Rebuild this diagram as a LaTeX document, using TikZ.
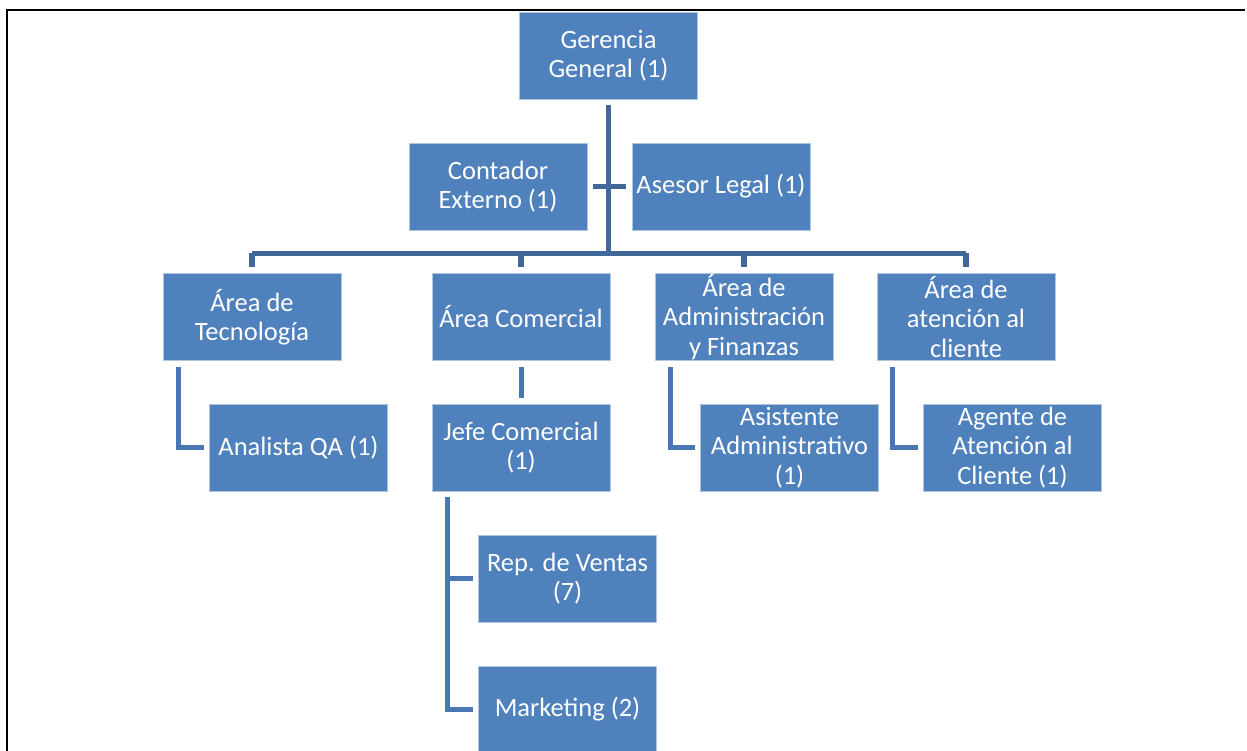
\documentclass[tikz,border=0pt]{standalone}
\usepackage{fontspec}
\setmainfont{Carlito}
\usetikzlibrary{calc}
\definecolor{boxblue}{HTML}{4F81BD}
\definecolor{trunkblue}{HTML}{41689A}
\definecolor{connblue}{HTML}{4A76B1}
\tikzset{
  orgbox/.style={rectangle, fill=boxblue, draw=white!55!boxblue, line width=0.8pt,
    minimum width=178pt, minimum height=87pt, inner sep=0pt, align=center,
    text=white, font=\fontsize{26.5}{29.5}\selectfont},
  trunk/.style={draw=trunkblue, line width=5.5pt},
  conn/.style={draw=connblue, line width=5pt},
  frame/.style={draw=black, line width=2pt}
}
\begin{document}
\begin{tikzpicture}[x=1pt,y=-1pt]
\useasboundingbox (0,0) rectangle (1247,751);
\clip (0,0) rectangle (1247,751);
\draw[frame] (6.5,751) -- (6.5,10) -- (1245,10);

\node[orgbox] (gg) at (608.5,55.5) {Gerencia\\General (1)};
\node[orgbox] (ce) at (498,186.5) {Contador\\Externo (1)};
\node[orgbox] (al) at (721,186.5) {Asesor Legal (1)};
\node[orgbox] (tec) at (252,317) {Área de\\Tecnología};
\node[orgbox] (com) at (521,317) {Área Comercial};
\node[orgbox] (adm) at (744,317) {Área de\\Administración\\y Finanzas};
\node[orgbox] (cli) at (966,317) {Área de\\atención al\\cliente};
\node[orgbox] (qa) at (298.5,447.5) {Analista QA (1)};
\node[orgbox] (jefe) at (521,447.5) {Jefe Comercial\\(1)};
\node[orgbox] (asis) at (789.5,447.5) {Asistente\\Administrativo\\(1)};
\node[orgbox] (agente) at (1012.5,447.5) {Agente de\\Atención al\\Cliente (1)};
\node[orgbox] (rep) at (567.5,578.5) {Rep. de Ventas\\(7)};
\node[orgbox] (mkt) at (567.5,709.5) {Marketing (2)};

% top trunk and bus
\draw[trunk] ($(gg.south)+(0,6)$) -- ($(gg.south)+(0,154)$) coordinate (bus);
\draw[trunk] ($(ce.east)+(6,0)$) -- ($(al.west)+(-6,0)$);
\draw[trunk] (tec.north |- bus) -- (cli.north |- bus);
\draw[trunk] (tec.north |- bus) -- ($(tec.north)+(0,-6)$);
\draw[trunk] (com.north |- bus) -- ($(com.north)+(0,-6)$);
\draw[trunk] (adm.north |- bus) -- ($(adm.north)+(0,-6)$);
\draw[trunk] (cli.north |- bus) -- ($(cli.north)+(0,-6)$);

% lower connectors
\draw[conn] ($(tec.south west)+(16,6)$) |- ($(qa.west)+(-5,0)$);
\draw[conn] ($(com.south)+(0,6)$) -- ($(jefe.north)+(0,-6)$);
\draw[conn] ($(adm.south west)+(16,6)$) |- ($(asis.west)+(-5,0)$);
\draw[conn] ($(cli.south west)+(16,6)$) |- ($(agente.west)+(-5,0)$);
\coordinate (jx) at ($(jefe.south west)+(16,6)$);
\draw[conn] (jx) |- ($(mkt.west)+(-5,0)$);
\draw[conn] (jx |- rep.west) -- ($(rep.west)+(-5,0)$);
\end{tikzpicture}
\end{document}
